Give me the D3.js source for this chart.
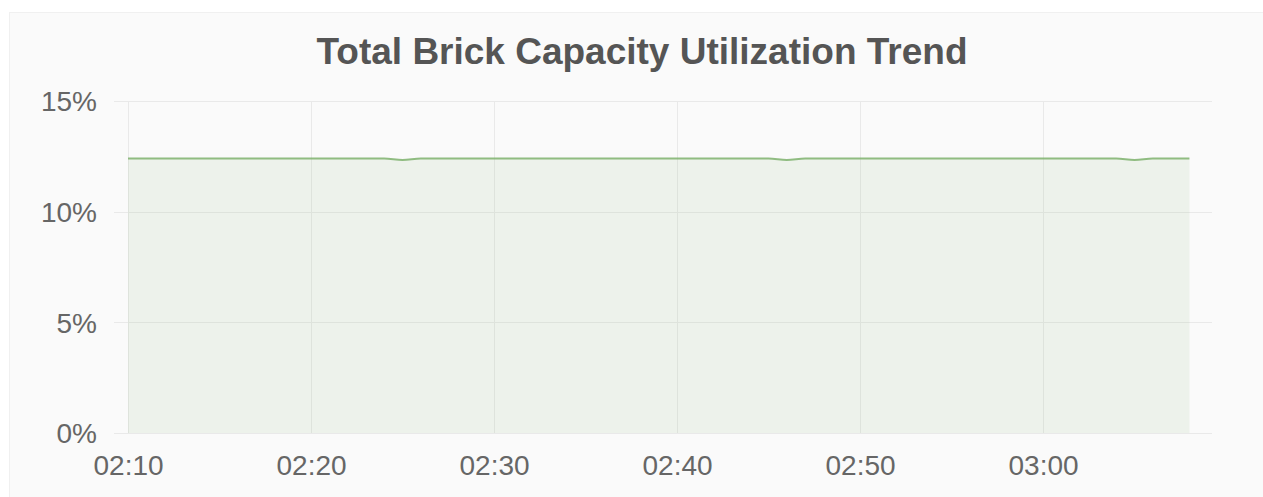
<!DOCTYPE html>
<html>
<head>
<meta charset="utf-8">
<script src="https://d3js.org/d3.v7.min.js"></script>
<style>
  body { margin: 0; background: #fff; overflow: hidden; }
  text { font-family: "Liberation Sans", Arial, sans-serif; }
</style>
</head>
<body>
<script>
// chart data, one sample per minute
const times = [
  "02:10","02:11","02:12","02:13","02:14","02:15","02:16","02:17","02:18","02:19",
  "02:20","02:21","02:22","02:23","02:24","02:25","02:26","02:27","02:28","02:29",
  "02:30","02:31","02:32","02:33","02:34","02:35","02:36","02:37","02:38","02:39",
  "02:40","02:41","02:42","02:43","02:44","02:45","02:46","02:47","02:48","02:49",
  "02:50","02:51","02:52","02:53","02:54","02:55","02:56","02:57","02:58","02:59",
  "03:00","03:01","03:02","03:03","03:04","03:05","03:06","03:07","03:08"
];
const utilization = [
  12.40,12.40,12.40,12.40,12.40,12.40,12.40,12.40,12.40,12.40,
  12.40,12.40,12.40,12.40,12.40,12.34,12.40,12.40,12.40,12.40,
  12.40,12.40,12.40,12.40,12.40,12.40,12.40,12.40,12.40,12.40,
  12.40,12.40,12.40,12.40,12.40,12.40,12.34,12.40,12.40,12.40,
  12.40,12.40,12.40,12.40,12.40,12.40,12.40,12.40,12.40,12.40,
  12.40,12.40,12.40,12.40,12.40,12.34,12.40,12.40,12.40
];
const yTicks = [0, 5, 10, 15];
const xTickLabels = ["02:10", "02:20", "02:30", "02:40", "02:50", "03:00"];
const timeRange = ["02:09:14", "03:09:14"];
const title = "Total Brick Capacity Utilization Trend";

const width = 1263, height = 497;
const parseHM = d3.timeParse("%H:%M");
const parseHMS = d3.timeParse("%H:%M:%S");

const data = times.map((t, i) => ({ t: parseHM(t), v: utilization[i] }));

const svg = d3.select("body").append("svg")
    .attr("width", width)
    .attr("height", height);

// panel background
svg.append("rect")
    .attr("x", 9.5).attr("y", 12.5)
    .attr("width", width).attr("height", height)
    .attr("fill", "#fafafa")
    .attr("stroke", "#f0f0f0");

svg.append("text")
    .attr("x", 642).attr("y", 64)
    .attr("text-anchor", "middle")
    .attr("font-size", 37)
    .attr("font-weight", "bold")
    .attr("fill", "#555")
    .text(title);

const x = d3.scaleTime()
    .domain(timeRange.map(parseHMS))
    .range([114, 1212]);

const y = d3.scaleLinear()
    .domain([0, 15])
    .range([433, 101]);

// grid
const grid = svg.append("g").attr("stroke", "#e9e9e9").attr("stroke-width", 1);
grid.selectAll(".hgrid")
    .data(yTicks)
    .enter().append("line")
    .attr("x1", x.range()[0]).attr("x2", x.range()[1])
    .attr("y1", d => Math.round(y(d)) + 0.5)
    .attr("y2", d => Math.round(y(d)) + 0.5);
grid.selectAll(".vgrid")
    .data(xTickLabels)
    .enter().append("line")
    .attr("x1", d => Math.round(x(parseHM(d))) + 0.5)
    .attr("x2", d => Math.round(x(parseHM(d))) + 0.5)
    .attr("y1", y(15)).attr("y2", y(0));

// area + line
const area = d3.area()
    .x(d => x(d.t))
    .y0(y(0))
    .y1(d => y(d.v))
    .curve(d3.curveMonotoneX);

const line = d3.line()
    .x(d => x(d.t))
    .y(d => y(d.v))
    .curve(d3.curveMonotoneX);

svg.append("path")
    .datum(data)
    .attr("d", area)
    .attr("fill", "#7EB26D")
    .attr("fill-opacity", 0.1);

svg.append("path")
    .datum(data)
    .attr("d", line)
    .attr("fill", "none")
    .attr("stroke", "#7EB26D")
    .attr("stroke-opacity", 0.85)
    .attr("stroke-width", 2);

// y axis labels
const yAxis = d3.axisLeft(y)
    .tickValues(yTicks)
    .tickFormat(d => d + "%")
    .tickSize(0)
    .tickPadding(0);

svg.append("g")
    .attr("transform", "translate(97,0)")
    .call(yAxis)
    .call(g => g.select(".domain").remove())
    .call(g => g.selectAll("text")
        .attr("font-family", "Liberation Sans, Arial, sans-serif")
        .attr("font-size", 28)
        .attr("fill", "#666")
        .attr("dy", "0.35em"));

// x axis labels
const xAxis = d3.axisBottom(x)
    .tickValues(xTickLabels.map(parseHM))
    .tickFormat(d3.timeFormat("%H:%M"))
    .tickSize(0)
    .tickPadding(0);

svg.append("g")
    .attr("transform", "translate(0,455)")
    .call(xAxis)
    .call(g => g.select(".domain").remove())
    .call(g => g.selectAll("text")
        .attr("font-family", "Liberation Sans, Arial, sans-serif")
        .attr("font-size", 28)
        .attr("fill", "#666")
        .attr("dy", "0.72em"));
</script>
</body>
</html>
